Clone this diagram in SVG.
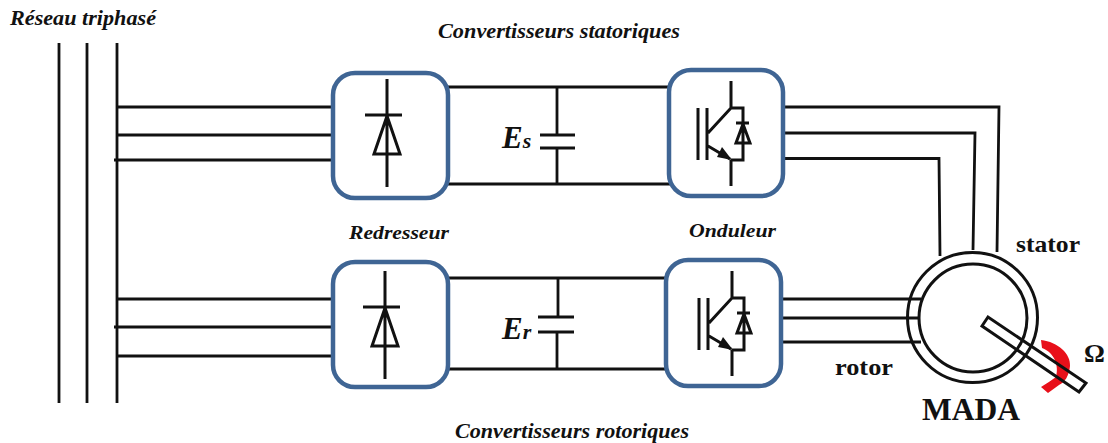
<svg xmlns="http://www.w3.org/2000/svg" width="1108" height="443" viewBox="0 0 1108 443">
<style>
.w{fill:none;stroke:#111;stroke-width:2.8}
.s{fill:none;stroke:#111;stroke-width:3;stroke-linejoin:miter}
.b{fill:#fff;stroke:#3f6594;stroke-width:4.5}
text{font-family:"Liberation Serif","Times New Roman",serif;font-weight:bold;fill:#111}
.i{font-style:italic}
</style>
<defs>
<g id="diode"><path class="s" d="M0 0V108M-22 36H15M0 37L-13 75H13Z"/></g>
<g id="igbt"><path class="s" d="M0 0V27L-23 52M-33 27V79M-24 27V79M-23 65L-1 78M0 79V105M0 27H12V79H0M5 42H18M12 43L5 62H19Z"/><path d="M-9 66L1 79L-14 76Z" fill="#111"/></g>
</defs>
<rect width="1108" height="443" fill="#fff"/>
<g id="connectors">
<path class="w" d="M59 43V403M87 43V403M117 43V403"/>
<path class="w" d="M117 107H334M117 135H334M114 160H334M117 299H334M114 327H334M117 356H334"/>
<path class="w" d="M447 87H670M447 184H670M447 278H667M447 369H667"/>
<path class="w" d="M557 87V135M557 148V184M540 135H575M540 148H575M558 278V317M557 332V370M538 317H574M538 332H574"/>
<path class="w" d="M782 107H999L997 252M782 133H975L973 250M782 158.500H939L940 256"/>
<path class="w" d="M780 299H921M780 318H918M780 342H921"/>
</g>
<g id="rectifier-top"><rect class="b" x="333" y="73" width="115" height="125" rx="22"/><use href="#diode" x="387" y="79"/></g>
<g id="inverter-top"><rect class="b" x="669" y="70" width="114" height="126" rx="22"/><use href="#igbt" x="731" y="81"/></g>
<g id="rectifier-bottom"><rect class="b" x="333" y="262" width="115" height="125" rx="22"/><use href="#diode" x="385" y="271"/></g>
<g id="inverter-bottom"><rect class="b" x="666" y="260" width="115" height="126" rx="22"/><use href="#igbt" x="732" y="271"/></g>
<g id="mada">
<path fill="#e8101a" d="M1041 340C1058 342 1071 354 1070 366C1069 376 1065 382 1059 385L1048 393L1041 387C1047 383 1052 380 1056 377C1059 366 1055 353 1042 348Z"/>
<path class="s" d="M988 317L982 326L1079 392L1086 383Z"/>
<circle class="s" cx="972.500" cy="317.500" r="65"/>
<circle class="s" cx="973" cy="318" r="54"/>
</g>
<g id="labels">
<text class="i" x="10" y="25" font-size="20" textLength="146" lengthAdjust="spacingAndGlyphs">Réseau triphasé</text>
<text class="i" x="438" y="38" font-size="20" textLength="242" lengthAdjust="spacingAndGlyphs">Convertisseurs statoriques</text>
<text class="i" x="455" y="438" font-size="20" textLength="234" lengthAdjust="spacingAndGlyphs">Convertisseurs rotoriques</text>
<text class="i" x="349" y="239" font-size="19" textLength="100" lengthAdjust="spacingAndGlyphs">Redresseur</text>
<text class="i" x="689" y="237" font-size="19" textLength="87" lengthAdjust="spacingAndGlyphs">Onduleur</text>
<text class="i" x="502" y="148" font-size="31">E<tspan font-size="22">s</tspan></text>
<text class="i" x="502" y="339" font-size="31">E<tspan font-size="22">r</tspan></text>
<text x="1016" y="252" font-size="24" textLength="64" lengthAdjust="spacingAndGlyphs">stator</text>
<text x="835" y="375" font-size="24" textLength="58" lengthAdjust="spacingAndGlyphs">rotor</text>
<text x="922" y="420" font-size="31" textLength="98" lengthAdjust="spacingAndGlyphs">MADA</text>
<text x="1084" y="362" font-size="26">Ω</text>
</g>
</svg>
